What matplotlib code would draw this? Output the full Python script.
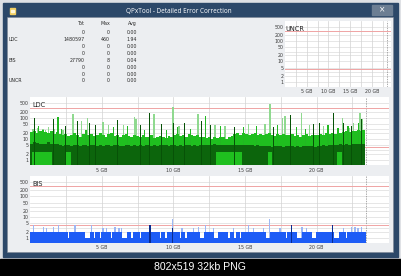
import numpy as np
import matplotlib.pyplot as plt
from matplotlib.patches import Rectangle
from matplotlib.ticker import NullLocator

W, H = 402, 276

# ---- values ----
row_labels = ['', 'LDC', '', '', 'BIS', '', '', 'UNCR']
tot_values = ['0', '1480597', '0', '0', '27790', '0', '0', '0']
max_values = ['0', '460', '0', '0', '8', '0', '0', '0']
avg_values = ['0.00', '1.94', '0.00', '0.00', '0.04', '0.00', '0.00', '0.00']

y_ticks = [1, 2, 5, 10, 20, 50, 100, 200, 500]
x_ticks = [5, 10, 15, 20]
x_tick_labels = ['5 GB', '10 GB', '15 GB', '20 GB']
disc_end = 23.43
limit_lines = [300, 4.2]

gb_step = 0.2
# LDC main (bright green) level per 0.2 GB
ldc_main = [22, 25, 20, 24, 26, 21, 19, 23, 18, 21,
            17, 15, 18, 14, 16, 19, 15, 13, 17, 16,
            15, 18, 14, 16, 20, 15, 13, 17, 19, 14,
            16, 13, 15, 18, 14, 12, 16, 14, 13, 15,
            13, 12, 15, 11, 13, 14, 12, 11, 14, 13,
            15, 17, 14, 16, 13, 18, 15, 14, 16, 13,
            12, 11, 13, 10, 12, 11, 13, 12, 10, 12,
            14, 17, 19, 16, 20, 18, 15, 17, 19, 16,
            18, 15, 17, 20, 16, 14, 17, 15, 18, 16,
            15, 17, 14, 16, 13, 15, 17, 14, 16, 15,
            16, 18, 15, 19, 17, 20, 18, 21, 19, 22,
            24, 21, 25, 23, 27, 24, 26]
# LDC low band (dark green) per 0.2 GB
ldc_low = [6, 7, 6.5, 6, 5.5, 6, 7, 6, 5.5, 5.5,
           5, 4.8, 5.2, 5, 4.6, 5, 5.3, 4.8, 5, 5.1,
           4.7, 5, 5.4, 4.6, 5, 4.8, 5.2, 4.9, 4.5, 5,
           5.2, 4.8, 4.6, 5, 5.3, 4.7, 5, 4.8, 5.1, 4.6,
           5, 5.4, 4.8, 5, 4.6, 5.2, 4.9, 5, 4.7, 5.3,
           5, 4.8, 5.2, 4.6, 5, 5.3, 4.8, 5.1, 4.7, 5,
           5.2, 5.4, 5, 5.3, 5.5, 5.1, 5.4, 5.2, 5, 5.3,
           5.1, 5.3, 5, 5.4, 4.9, 5.2, 5, 5.3, 4.8, 5,
           4.6, 4.4, 4.8, 4.5, 4.2, 4.6, 4.4, 4.7, 4.3, 4.5,
           4.4, 4.6, 4.3, 4.5, 4.2, 4.6, 4.4, 4.7, 4.5, 4.3,
           4.6, 4.8, 5, 4.7, 5.2, 5, 5.4, 5.1, 5.5, 5.3,
           5.6, 5.4, 5.8, 5.5, 6, 5.7, 5.8]
# ranges (GB) where the bright green shows below the dark band
ldc_floor_start = [0.15, 2.45, 13.0, 16.6, 21.4]
ldc_floor_end = [1.5, 2.85, 14.8, 16.9, 21.8]
ldc_floor_level = 2.5

ldc_light_gb = [0.2, 0.5, 0.9, 1.1, 1.3, 1.7, 2.3, 3.0, 3.6, 4.0, 5.1, 5.45, 6.5, 7.3, 7.4,
                8.65, 9.98, 10.4, 11.72, 12.9, 13.6, 15.24, 16.4, 16.75, 17.6, 17.8, 18.97,
                19.5, 20.5, 21.83, 22.3, 22.6, 23.04, 23.2]
ldc_light = [30, 32, 30, 28, 38, 31, 26, 160, 70, 100, 65, 48, 48, 110, 90,
             150, 340, 40, 150, 45, 40, 50, 50, 450, 100, 120, 180,
             45, 40, 100, 34, 60, 180, 90]
ldc_mid_gb = [0.6, 1.95, 2.2, 3.9, 5.8, 6.8, 8.0, 9.5, 10.3, 11.2, 12.25, 13.3, 14.9, 15.8,
              17.3, 18.6, 19.2, 20.8, 21.5, 22.2, 22.9]
ldc_mid = [40, 110, 30, 28, 35, 40, 26, 27, 35, 30, 120, 43, 35, 40,
           45, 38, 30, 45, 32, 40, 60]
ldc_dark_gb = [0.3, 1.6, 2.5, 3.3, 4.15, 4.6, 6.1, 7.7, 8.35, 9.2, 9.98, 10.8, 11.95, 12.6,
               14.3, 17.0, 18.2, 19.8, 20.2, 21.17, 21.9, 22.45, 23.15]
ldc_dark = [100, 85, 40, 70, 60, 48, 78, 48, 180, 50, 60, 55, 70, 45,
            35, 38, 130, 50, 55, 180, 60, 43, 85]

# BIS level per 0.2 GB
bis_level = [2, 2, 2, 2, 2, 2, 2, 2, 2, 2,
             2, 2, 2, 1, 2, 2, 2, 2, 2, 1,
             1, 2, 1, 2, 1, 2, 2, 2, 1, 2,
             2, 2, 1, 1, 2, 1, 2, 2, 1, 2,
             2, 2, 2, 2, 2, 1, 2, 1, 2, 2,
             2, 2, 1, 2, 1, 2, 2, 2, 2, 1,
             1, 2, 2, 2, 1, 1, 2, 2, 2, 1,
             2, 1, 2, 1, 2, 2, 2, 2, 2, 2,
             2, 2, 1, 1, 2, 2, 2, 2, 2, 1,
             2, 2, 2, 1, 1, 2, 2, 2, 1, 1,
             2, 2, 2, 2, 2, 2, 1, 1, 2, 2,
             1, 2, 2, 2, 2, 2, 2]
bis_light_gb = [0.22, 0.92, 1.16, 1.62, 1.97, 3.14, 4.3, 5.1, 5.35, 5.93, 6.2, 6.4, 9.96, 10.6,
                11.4, 11.75, 12.26, 12.8, 14.2, 15.24, 15.6, 16.3, 16.7, 17.45, 18.97, 19.3,
                21.87, 22.46, 22.7, 22.9, 23.15]
bis_light = [4, 3.5, 3, 3.5, 4, 4, 4, 3, 3, 3.5, 3, 3, 8, 3,
             3, 3.5, 4.3, 3, 3, 4, 3, 3, 8, 3, 3.5, 3,
             3, 3.5, 3.5, 3, 3.5]
bis_dark_gb = [8.37, 9.96, 18.27, 21.13]
bis_dark = [4.3, 3, 4.2, 4.3]

FLOOR = 0.5
YLIM = (0.58, 950)


def px_axes(fig, x0, y0, x1, y1):
    return fig.add_axes([x0 / W, 1 - y1 / H, (x1 - x0) / W, (y1 - y0) / H])


def setup_chart(ax, label, xmax):
    ax.set_facecolor('white')
    ax.set_yscale('log')
    ax.set_ylim(*YLIM)
    ax.set_xlim(0, xmax)
    for s in ax.spines.values():
        s.set_visible(False)
    ax.set_yticks(y_ticks)
    ax.set_yticklabels([str(v) for v in y_ticks])
    ax.yaxis.set_minor_locator(NullLocator())
    ax.set_xticks(x_ticks)
    ax.set_xticklabels(x_tick_labels)
    ax.tick_params(length=0, labelsize=3.4, labelcolor='#3a3a3a')
    ax.tick_params(axis='y', pad=1.0)
    ax.tick_params(axis='x', pad=2.0)
    for v in y_ticks + [3, 30, 300]:
        ax.axhline(v, color='#dcdcdc', lw=0.5, zorder=0.5)
    for g in np.arange(2.5, 23, 2.5):
        ax.axvline(g, color='#d2d2d2', lw=0.5, zorder=0.5)
    ax.axvline(disc_end, color='#8a8a8a', lw=0.5, ls=(0, (2, 1.5)), zorder=0.6)
    for v in limit_lines:
        ax.axhline(v, color='#f0a4a4', lw=0.7, zorder=0.7)
    ax.text(0.005, 0.93, label, transform=ax.transAxes, fontsize=4.8,
            color='#222222', ha='left', va='top', zorder=5)


def bars(ax, x, vals, width, color, z, bottom=FLOOR):
    vals = np.asarray(vals, dtype=float)
    ax.bar(x, vals - bottom, bottom=bottom, width=width, color=color,
           linewidth=0, zorder=z)


def main():
    fig = plt.figure(figsize=(W / 100, H / 100), dpi=100)
    fig.patch.set_facecolor('#dfe1e5')

    # window chrome, drawn in pixel units
    bg = fig.add_axes([0, 0, 1, 1])
    bg.set_xlim(0, W)
    bg.set_ylim(H, 0)
    bg.axis('off')
    bg.add_patch(Rectangle((0, 259.3), W, H - 259.3, color='black'))
    bg.add_patch(Rectangle((2.7, 2.5), 395, 254.8, color='#2c4869'))
    bg.add_patch(Rectangle((7.5, 17.3), 386, 235, facecolor='#eceef1',
                           edgecolor='#7d8794', lw=0.4))
    bg.add_patch(Rectangle((372, 4.5), 20, 10.5, color='#6c7e93'))
    bg.text(382, 9.6, '×', color='white', ha='center', va='center', fontsize=5.5)
    bg.add_patch(Rectangle((10.3, 8.3), 5, 5.4, color='#f1cf62'))
    bg.add_patch(Rectangle((11.5, 9.5), 2.6, 2.4, color='#fff6d8'))
    bg.text(179, 11.5, 'QPxTool - Detailed Error Correction', color='#f2f4f7',
            ha='center', va='center', fontsize=4.6, family='Noto Sans')
    bg.text(200, 267.5, '802x519 32kb PNG', color='white', ha='center', va='center',
            fontsize=7.6, family='Liberation Sans')

    # stats table
    tfont = dict(fontsize=3.4, color='#2a2a2a', va='center')
    bg.text(85, 23.3, 'Tot', ha='right', **tfont)
    bg.text(110, 23.3, 'Max', ha='right', **tfont)
    bg.text(137, 23.3, 'Avg', ha='right', **tfont)
    row_y = [32.3, 39.3, 46, 53.3, 60.7, 67.3, 74, 81]
    for i, y in enumerate(row_y):
        bg.text(8.5, y, row_labels[i], ha='left', **tfont)
        bg.text(85, y, tot_values[i], ha='right', **tfont)
        bg.text(110, y, max_values[i], ha='right', **tfont)
        bg.text(137, y, avg_values[i], ha='right', **tfont)

    n = len(ldc_main)
    xs = (np.arange(n) + 0.5) * gb_step

    # UNCR
    uncr = px_axes(fig, 285, 21, 391.5, 86.7)
    setup_chart(uncr, 'UNCR', 24.5)

    # LDC
    ldc = px_axes(fig, 30.1, 97.3, 389.3, 165)
    setup_chart(ldc, 'LDC', 25.08)
    bars(ldc, ldc_light_gb, ldc_light, 0.09, '#8fd98f', 1)
    bars(ldc, xs, ldc_main, gb_step, '#1fbf1f', 2)
    bars(ldc, ldc_mid_gb, ldc_mid, 0.08, '#22b822', 2.1)
    bars(ldc, xs, ldc_low, gb_step, '#0c650c', 3)
    starts = np.asarray(ldc_floor_start)
    ends = np.asarray(ldc_floor_end)
    ldc.bar(starts, ldc_floor_level - FLOOR, width=ends - starts, bottom=FLOOR,
            align='edge', color='#1fbf1f', linewidth=0, zorder=3.5)
    bars(ldc, ldc_dark_gb, ldc_dark, 0.07, '#075207', 4)

    # BIS
    bis = px_axes(fig, 30.1, 176, 389.3, 242.7)
    setup_chart(bis, 'BIS', 25.08)
    bars(bis, bis_light_gb, bis_light, 0.1, '#9db7f4', 1)
    bars(bis, xs, bis_level, 0.3, '#1d5cf6', 2)
    bars(bis, bis_dark_gb, bis_dark, 0.08, '#0b2c8e', 3)

    fig.savefig('out.png', dpi=100, facecolor=fig.get_facecolor())


if __name__ == '__main__':
    main()
